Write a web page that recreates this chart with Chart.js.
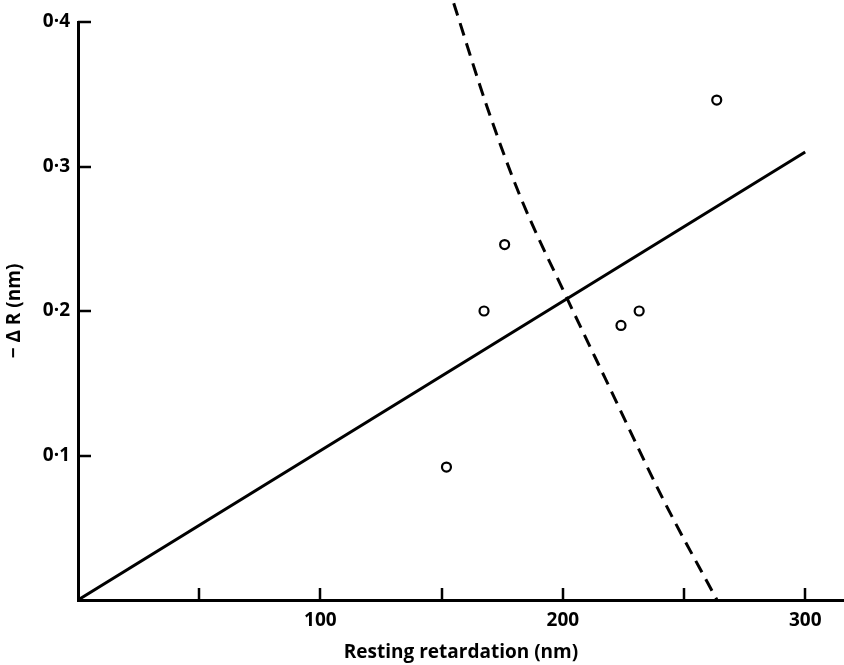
<!DOCTYPE html>
<html><head><meta charset="utf-8">
<script src="https://cdn.jsdelivr.net/npm/chart.js@4"></script>
<style>html,body{margin:0;padding:0;background:#fff}</style>
</head><body>
<canvas id="c" width="844" height="665"></canvas>
<script>
// Observed points
const pointsX = [152, 167.5, 176, 224, 231.5, 263.5];
const pointsY = [0.092, 0.200, 0.246, 0.190, 0.200, 0.346];
// Solid fitted line
const fitX = [0, 300];
const fitY = [0, 0.31];
// Dashed curve
const curveX = [155, 168.8, 182.5, 201.4, 217.6, 241.6, 263.6];
const curveY = [0.413, 0.341, 0.279, 0.210, 0.153, 0.069, 0];
// Ticks
const xTicks = [50, 100, 150, 200, 250, 300];
const xLabels = [100, 200, 300];
const yTicks = [0.1, 0.2, 0.3, 0.4];

const FONT = "'Open Sans', 'DejaVu Sans', sans-serif";

const toXY = (xs, ys) => xs.map((x, i) => ({x: x, y: ys[i]}));

const inwardTicks = {
  id: 'inwardTicks',
  afterDatasetsDraw(chart) {
    const ctx = chart.ctx, xs = chart.scales.x, ys = chart.scales.y, a = chart.chartArea;
    ctx.save();
    ctx.strokeStyle = '#000';
    ctx.lineWidth = 2.5;
    ctx.beginPath();
    xTicks.forEach(v => {
      const px = Math.round(xs.getPixelForValue(v));
      ctx.moveTo(px, a.bottom);
      ctx.lineTo(px, a.bottom - 12);
    });
    yTicks.forEach(v => {
      const py = Math.round(ys.getPixelForValue(v));
      ctx.moveTo(a.left, py);
      ctx.lineTo(a.left + 13, py);
    });
    ctx.stroke();
    ctx.restore();
  }
};

new Chart(document.getElementById('c'), {
  type: 'scatter',
  data: {
    datasets: [
      {
        type: 'line',
        data: toXY(fitX, fitY),
        borderColor: '#000',
        borderWidth: 3,
        pointRadius: 0,
        fill: false
      },
      {
        type: 'line',
        data: toXY(curveX, curveY),
        borderColor: '#000',
        borderWidth: 3,
        borderDash: [13, 8],
        pointRadius: 0,
        fill: false,
        cubicInterpolationMode: 'monotone',
        clip: false
      },
      {
        data: toXY(pointsX, pointsY),
        pointRadius: 4.5,
        pointBorderWidth: 2.2,
        pointBackgroundColor: '#fff',
        pointBorderColor: '#000'
      }
    ]
  },
  options: {
    responsive: false,
    animation: false,
    devicePixelRatio: 1,
    layout: {autoPadding: false, padding: {top: 22, right: 0, left: 0, bottom: 0}},
    plugins: {legend: {display: false}, tooltip: {enabled: false}},
    scales: {
      x: {
        type: 'linear',
        min: 0,
        max: 316,
        afterBuildTicks: s => { s.ticks = xTicks.map(v => ({value: v})); },
        afterFit: s => { s.height = 65; s.paddingRight = 0; s.paddingLeft = 0; },
        grid: {display: false, drawTicks: false},
        border: {display: true, color: '#000', width: 3},
        ticks: {
          padding: 9,
          color: '#000',
          font: {family: FONT, size: 19, weight: 'bold'},
          callback: v => xLabels.includes(v) ? String(v) : ''
        },
        title: {
          display: true,
          text: 'Resting retardation (nm)',
          color: '#000',
          font: {family: FONT, size: 19, weight: 'bold'},
          padding: {top: 4, bottom: 1}
        }
      },
      y: {
        type: 'linear',
        min: 0,
        max: 0.4,
        afterBuildTicks: s => { s.ticks = yTicks.map(v => ({value: v})); },
        afterFit: s => { s.width = 78; s.paddingTop = 0; s.paddingBottom = 0; },
        grid: {display: false, drawTicks: false},
        border: {display: true, color: '#000', width: 3},
        ticks: {
          padding: 8,
          color: '#000',
          font: {family: FONT, size: 19, weight: 'bold'},
          callback: v => v.toFixed(1).replace('.', '·')
        },
        title: {
          display: true,
          text: '− Δ R (nm)',
          color: '#000',
          font: {family: FONT, size: 19, weight: 'bold'},
          padding: {top: 3, bottom: 0}
        }
      }
    }
  },
  plugins: [inwardTicks]
});
</script>
</body></html>
